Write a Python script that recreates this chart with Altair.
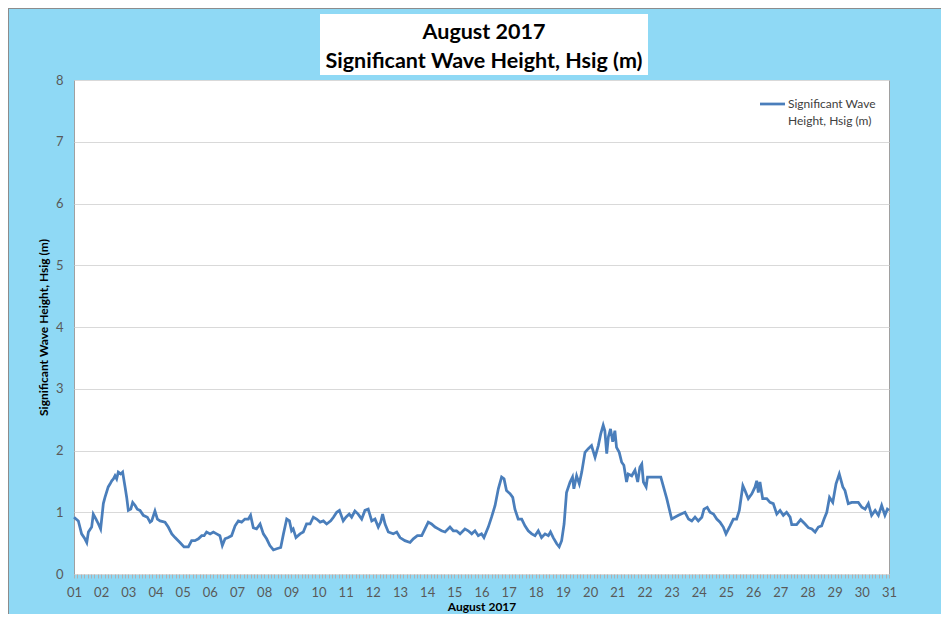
import altair as alt
import pandas as pd

# ---- data (day of August 2017, Hsig in metres) ----
days = [
    1.00, 1.16, 1.28, 1.40, 1.47, 1.53, 1.65, 1.71, 1.81, 1.90,
    1.98, 2.08, 2.14, 2.26, 2.33, 2.39, 2.45, 2.51, 2.57, 2.63,
    2.72, 2.79, 2.88, 2.94, 3.00, 3.09, 3.16, 3.25, 3.33, 3.43,
    3.55, 3.70, 3.80, 3.86, 3.98, 4.07, 4.17, 4.35, 4.47, 4.60,
    4.72, 4.90, 5.05, 5.21, 5.33, 5.45, 5.58, 5.70, 5.79, 5.88,
    6.01, 6.13, 6.25, 6.37, 6.46, 6.56, 6.68, 6.80, 6.93, 7.05,
    7.17, 7.29, 7.42, 7.50, 7.60, 7.72, 7.85, 7.97, 8.09, 8.21,
    8.34, 8.46, 8.61, 8.71, 8.83, 8.93, 9.01, 9.07, 9.17, 9.32,
    9.44, 9.56, 9.69, 9.81, 9.93, 10.06, 10.18, 10.30, 10.45, 10.55,
    10.67, 10.77,
    10.91, 11.01, 11.13, 11.22, 11.34, 11.46, 11.59, 11.71, 11.83, 11.96,
    12.08, 12.20, 12.29, 12.36, 12.45, 12.57, 12.75, 12.88, 13.00, 13.18,
    13.37, 13.49, 13.64, 13.80, 13.92, 14.04, 14.16, 14.29, 14.41, 14.53,
    14.66, 14.84, 14.96, 15.08, 15.21, 15.39, 15.51, 15.64, 15.76, 15.88,
    16.00, 16.09, 16.25, 16.37, 16.50, 16.62, 16.74, 16.83, 16.92, 17.05,
    17.15, 17.23, 17.35, 17.48, 17.60, 17.72, 17.85, 17.97, 18.09, 18.21,
    18.34, 18.46, 18.54, 18.64, 18.77, 18.86, 18.95, 19.04, 19.13, 19.26,
    19.35, 19.40, 19.50, 19.60, 19.69, 19.81, 19.93, 20.05, 20.18, 20.30,
    20.39, 20.48, 20.54, 20.61, 20.67, 20.75, 20.83, 20.91, 20.97, 21.07,
    21.16, 21.24, 21.34, 21.40, 21.53, 21.65, 21.75, 21.83,
    21.90, 21.96, 22.06, 22.11, 22.33, 22.60, 22.82, 23.00, 23.25, 23.49,
    23.62, 23.74, 23.86, 23.98, 24.11, 24.19, 24.31, 24.41, 24.54, 24.66,
    24.78, 24.90, 25.00, 25.15, 25.27, 25.39, 25.49, 25.62, 25.70, 25.82,
    25.95, 26.07, 26.13, 26.19, 26.25, 26.35, 26.50, 26.62, 26.74, 26.87,
    26.99, 27.11, 27.23, 27.36, 27.42, 27.60, 27.75, 27.91, 28.03, 28.16,
    28.28, 28.40, 28.52, 28.61, 28.71, 28.81, 28.93, 29.05, 29.17, 29.30,
    29.38, 29.50, 29.63, 29.75, 29.87, 30.00, 30.12, 30.24, 30.36, 30.49,
    30.61, 30.73, 30.85, 30.94, 31.00,
]

hsig = [
    0.92, 0.86, 0.65, 0.57, 0.51, 0.68, 0.76, 0.97, 0.89, 0.81,
    0.73, 1.14, 1.24, 1.41, 1.46, 1.51, 1.54, 1.59, 1.54, 1.65,
    1.62, 1.65, 1.41, 1.24, 1.03, 1.05, 1.16, 1.11, 1.05, 1.03,
    0.95, 0.92, 0.84, 0.86, 1.02, 0.89, 0.86, 0.84, 0.76, 0.65,
    0.59, 0.51, 0.44, 0.44, 0.54, 0.54, 0.57, 0.62, 0.62, 0.68,
    0.65, 0.68, 0.65, 0.62, 0.46, 0.57, 0.59, 0.62, 0.78, 0.86,
    0.84, 0.89, 0.89, 0.95, 0.75, 0.73, 0.81, 0.65, 0.57, 0.46,
    0.39, 0.41, 0.43, 0.65, 0.89, 0.86, 0.70, 0.73, 0.59, 0.65,
    0.68, 0.81, 0.81, 0.92, 0.89, 0.84, 0.86, 0.81, 0.86, 0.92,
    1.00, 1.03,
    0.86, 0.92, 0.97, 0.92, 1.02, 0.97, 0.89, 1.03, 1.05, 0.86,
    0.89, 0.76, 0.84, 0.97, 0.81, 0.68, 0.65, 0.68, 0.59, 0.54,
    0.51, 0.57, 0.62, 0.62, 0.73, 0.84, 0.81, 0.76, 0.73, 0.70,
    0.68, 0.76, 0.70, 0.70, 0.65, 0.73, 0.70, 0.65, 0.70, 0.62,
    0.65, 0.59, 0.76, 0.92, 1.11, 1.38, 1.57, 1.54, 1.35, 1.30,
    1.24, 1.05, 0.89, 0.89, 0.78, 0.70, 0.65, 0.62, 0.70, 0.59,
    0.65, 0.62, 0.68, 0.59, 0.49, 0.44, 0.54, 0.81, 1.32, 1.49,
    1.57, 1.38, 1.59, 1.46, 1.65, 1.97, 2.03, 2.08, 1.89, 2.08,
    2.27, 2.41, 2.32, 1.95, 2.22, 2.35, 2.14, 2.32, 2.05, 1.97,
    1.81, 1.76, 1.49, 1.62, 1.59, 1.68, 1.49, 1.73,
    1.78, 1.49, 1.41, 1.57, 1.57, 1.57, 1.22, 0.89, 0.95, 1.00,
    0.89, 0.86, 0.92, 0.86, 0.92, 1.05, 1.08, 1.00, 0.97, 0.89,
    0.84, 0.76, 0.65, 0.78, 0.89, 0.89, 1.03, 1.43, 1.35, 1.22,
    1.30, 1.41, 1.51, 1.32, 1.49, 1.22, 1.22, 1.16, 1.14, 0.97,
    1.03, 0.95, 1.00, 0.92, 0.80, 0.80, 0.88, 0.81, 0.75, 0.73,
    0.68, 0.76, 0.78, 0.89, 1.00, 1.24, 1.16, 1.46, 1.62, 1.41,
    1.35, 1.14, 1.16, 1.16, 1.16, 1.08, 1.05, 1.14, 0.95, 1.03,
    0.95, 1.11, 0.95, 1.05, 1.03,
]

series_name = "Significant Wave Height, Hsig (m)"
title_lines = ["August 2017", "Significant Wave Height, Hsig (m)"]
legend_lines = ["Significant Wave", "Height, Hsig (m)"]
x_title = "August 2017"
y_title = "Significant Wave Height, Hsig (m)"
y_ticks = [0, 1, 2, 3, 4, 5, 6, 7, 8]
minor_ticks = [1 + i / 8 for i in range(241)]  # 3-hourly minor ticks, labels on whole days

FONT = "Lato"
BLUE = "#4a7ebb"
BG = "#8fd9f5"

df = pd.DataFrame({"day": days, "hsig": hsig, "series": series_name})
dummy = alt.Data(values=[{"k": 1}])

label_expr = (
    "datum.value % 1 === 0 ? (datum.value < 10 ? '0' : '') + datum.value : ''"
)

line = alt.Chart(df).mark_line(strokeWidth=2.75, interpolate="linear", color=BLUE).encode(
    x=alt.X(
        "day:Q",
        scale=alt.Scale(domain=[1, 31], nice=False, zero=False),
        axis=alt.Axis(
            values=minor_ticks,
            labelExpr=label_expr,
            labelOverlap=False,
            labelBound=False,
            labelFlush=False,
            grid=False,
            domain=False,
            ticks=True,
            tickSize=4,
            tickColor="#b0b0b0",
            tickWidth=1,
            labelFont=FONT,
            labelFontSize=13,
            labelColor="#595959",
            labelPadding=8,
            title=x_title,
            titleFont=FONT,
            titleFontSize=12,
            titleFontWeight="bold",
            titleColor="#000000",
            titlePadding=2,
        ),
    ),
    y=alt.Y(
        "hsig:Q",
        scale=alt.Scale(domain=[0, 8], nice=False),
        axis=alt.Axis(
            values=y_ticks,
            grid=True,
            gridColor="#d9d9d9",
            gridWidth=1,
            domain=False,
            ticks=False,
            labelFont=FONT,
            labelFontSize=13,
            labelColor="#595959",
            labelPadding=11,
            title=y_title,
            titleFont=FONT,
            titleFontSize=12,
            titleFontWeight="bold",
            titleColor="#000000",
            titlePadding=5,
        ),
    ),
    detail="series:N",
)

# white box behind the two-line title
title_box = alt.Chart(dummy).mark_rect(fill="white").encode(
    x=alt.value(246), x2=alt.value(574), y=alt.value(-66), y2=alt.value(-5)
)
title_1 = alt.Chart(dummy).mark_text(
    text=title_lines[0], font=FONT, fontSize=21.5, fontWeight="bold",
    color="#000000", align="center", baseline="middle",
).encode(x=alt.value(410), y=alt.value(-47))
title_2 = alt.Chart(dummy).mark_text(
    text=title_lines[1], font=FONT, fontSize=21.5, fontWeight="bold",
    color="#000000", align="center", baseline="middle",
).encode(x=alt.value(410), y=alt.value(-18))

# legend (symbol line + two-line label) in the top-right of the plot
legend_symbol = alt.Chart(dummy).mark_rule(color=BLUE, strokeWidth=2.75).encode(
    x=alt.value(686), x2=alt.value(711), y=alt.value(24)
)
legend_text_1 = alt.Chart(dummy).mark_text(
    text=legend_lines[0], font=FONT, fontSize=12, color="#404040",
    align="left", baseline="middle",
).encode(x=alt.value(714), y=alt.value(24))
legend_text_2 = alt.Chart(dummy).mark_text(
    text=legend_lines[1], font=FONT, fontSize=12, color="#404040",
    align="left", baseline="middle",
).encode(x=alt.value(714), y=alt.value(41))

frame_left = alt.Chart(dummy).mark_rule(color="#8c8c8c", strokeWidth=1).encode(
    x=alt.value(-65.5), y=alt.value(-72), y2=alt.value(534)
)
frame_top = alt.Chart(dummy).mark_rule(color="#8c8c8c", strokeWidth=1).encode(
    x=alt.value(-66), x2=alt.value(867), y=alt.value(-71.5)
)

# total chart 933 x 606 so the page (8px margins) does not overflow the window
chart = (
    alt.layer(
        title_box, title_1, title_2, frame_left, frame_top,
        line, legend_symbol, legend_text_1, legend_text_2,
    )
    .properties(
        width=815,
        height=494,
        autosize=alt.AutoSizeParams(type="none"),
        padding={"left": 66, "top": 72, "right": 52, "bottom": 40},
    )
    .configure(background=BG)
    .configure_view(fill="white", stroke="#a0a0a0", strokeWidth=1)
)

chart.save("out.html", embed_options={"renderer": "svg", "actions": False})
